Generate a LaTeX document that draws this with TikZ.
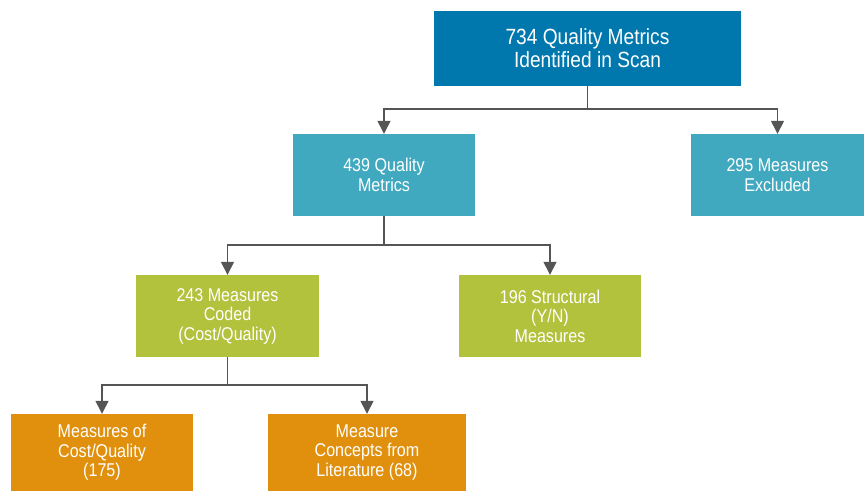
\documentclass[tikz,border=0pt]{standalone}
\usepackage{fontspec}
\setmainfont{Liberation Sans}[FakeStretch=0.87]
\usetikzlibrary{arrows.meta}

\definecolor{topblue}{RGB}{0,120,174}
\definecolor{teal}{RGB}{65,169,191}
\definecolor{lime}{RGB}{178,194,60}
\definecolor{amber}{RGB}{224,144,12}
\definecolor{linegray}{RGB}{85,85,85}

\tikzset{
  box/.style={rectangle, inner sep=0pt, align=center, text=white,
    font=\fontsize{18.5}{19.5}\selectfont},
  link/.style={draw=linegray, line width=1.4pt,
    -{Triangle[width=13pt,length=13pt]}},
}

\begin{document}
\begin{tikzpicture}[x=1pt, y=-1pt]
\useasboundingbox (0,0) rectangle (864,491);
\def \bh{82};
% level 1
\node[box, fill=topblue, minimum width=307pt, minimum height=75pt,
  font=\fontsize{22}{23}\selectfont] (scan) at (587.5,48.5)
  {734 Quality Metrics\\Identified in Scan};
% level 2
\node[box, fill=teal, minimum width=182pt, minimum height=\bh pt] (quality) at (384,175)
  {439 Quality\\Metrics};
\node[box, fill=teal, minimum width=173pt, minimum height=\bh pt] (excluded) at (777.5,175)
  {295 Measures\\Excluded};
% level 3
\node[box, fill=lime, minimum width=183pt, minimum height=\bh pt] (coded) at (227.5,316)
  {243 Measures\\Coded\\(Cost/Quality)};
\node[box, fill=lime, minimum width=182pt, minimum height=\bh pt] (structural) at (550,316)
  {196 Structural\\(Y/N)\\Measures};
% level 4
\node[box, fill=amber, minimum width=182pt, minimum height=77pt] (cost) at (102,452.5)
  {Measures of\\Cost/Quality\\(175)};
\node[box, fill=amber, minimum width=198pt, minimum height=77pt] (literature) at (367,452.5)
  {Measure\\Concepts from\\Literature (68)};

% connectors
\coordinate (j1) at (587.5,109);
\coordinate (j2) at (384,245);
\coordinate (j3) at (227.5,385);
\draw[link] (scan.south) -- (j1) -| (quality.north);
\draw[link] (j1) -| (excluded.north);
\draw[link] (quality.south) -- (j2) -| (coded.north);
\draw[link] (j2) -| (structural.north);
\draw[link] (coded.south) -- (j3) -| (cost.north);
\draw[link] (j3) -| (literature.north);
\end{tikzpicture}
\end{document}
